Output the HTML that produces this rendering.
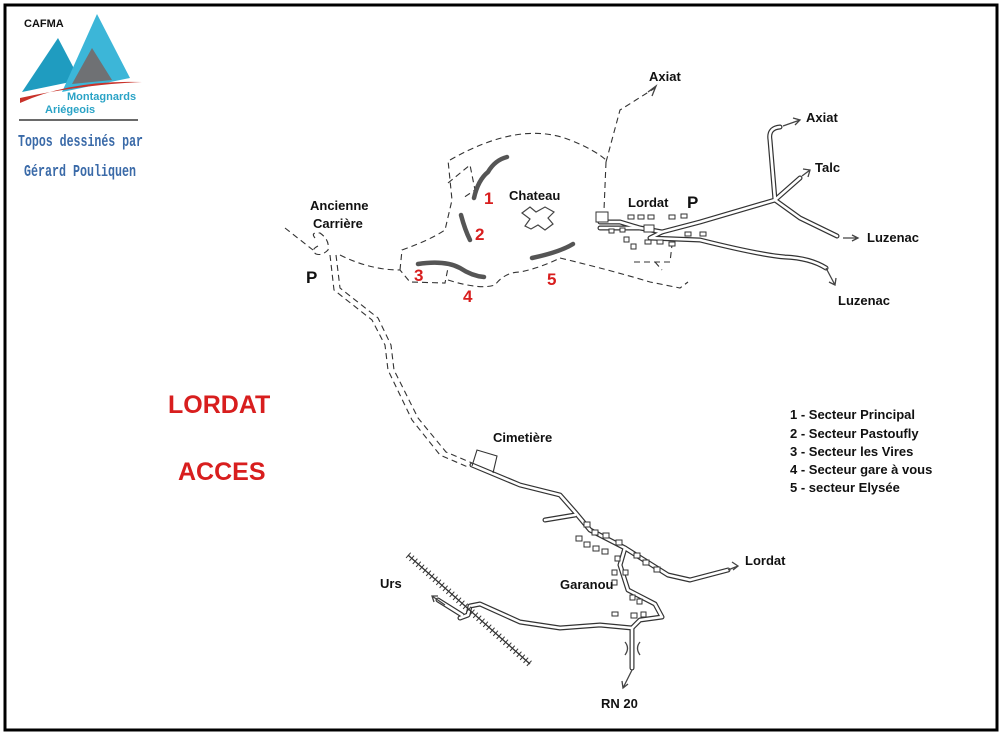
<!DOCTYPE html>
<html><head><meta charset="utf-8"><style>
html,body{margin:0;padding:0;background:#fff}
svg{display:block}
text{font-family:"Liberation Sans",sans-serif;font-weight:bold}
.r{fill:none;stroke:#333;stroke-width:5;stroke-linecap:round;stroke-linejoin:round}
.ri{fill:none;stroke:#fff;stroke-width:2.6;stroke-linecap:round;stroke-linejoin:round}
.rd{fill:none;stroke:#333;stroke-width:1.1;stroke-dasharray:6,4}
.ar{fill:none;stroke:#444;stroke-width:1.3}
.cr{fill:none;stroke:#555;stroke-width:4.5;stroke-linecap:round}
.h{fill:#fff;stroke:#333;stroke-width:1}
.n{fill:#d81e1e;font-size:17px}
</style></head><body>
<svg width="1003" height="736" viewBox="0 0 1003 736" xmlns="http://www.w3.org/2000/svg">
<rect x="0" y="0" width="1003" height="736" fill="#fff"/>
<rect x="5" y="5" width="992" height="725" fill="none" stroke="#000" stroke-width="3"/>

<!-- logo -->
<polygon points="22,92 58,38 80,80" fill="#1f9cc0"/>
<polygon points="62,92 97,14 130,78" fill="#3cb6d8"/>
<polygon points="72,84 92,48 112,80" fill="#6f7174"/>
<path d="M20,103 Q70,80 142,82 Q80,85 20,98 Z" fill="#c8322a"/>
<text x="24" y="27" font-size="11" fill="#111">CAFMA</text>
<text x="67" y="100" font-size="11" fill="#2aa3c6" font-weight="normal">Montagnards</text>
<text x="45" y="113" font-size="11" fill="#2aa3c6" font-weight="normal">Ariégeois</text>
<line x1="19" y1="120" x2="138" y2="120" stroke="#111" stroke-width="1.2"/>
<text x="18" y="146" font-size="17" fill="#3a6aa8" textLength="125" lengthAdjust="spacingAndGlyphs" style="font-family:'Liberation Mono',monospace;font-weight:bold">Topos dessinés par</text>
<text x="24" y="176" font-size="17" fill="#3a6aa8" textLength="112" lengthAdjust="spacingAndGlyphs" style="font-family:'Liberation Mono',monospace;font-weight:bold">Gérard Pouliquen</text>

<!-- dashed trails -->
<path class="rd" d="M285,228 L313,250"/>
<path class="rd" d="M315,238 Q310,232 320,233 Q330,240 328,250 Q322,256 316,254 Q310,250 318,246"/>
<path class="rd" d="M340,255 Q370,270 400,270 L410,282 L445,283 L448,268"/>
<path class="rd" d="M400,270 L402,250 Q430,240 445,230 L452,200 L448,160"/>
<path class="rd" d="M448,183 L470,165 L475,190 L463,198"/>
<path class="rd" d="M450,160 Q520,120 570,140 Q595,150 606,160"/>
<path class="rd" d="M606,162 L620,110 L655,88"/>
<path class="rd" d="M606,162 L604,210"/>
<path class="rd" d="M448,280 Q480,290 495,285 Q505,272 520,272 Q540,268 560,258"/>
<path class="rd" d="M560,258 Q610,270 650,282 L680,288 L688,282"/>
<path class="rd" d="M634,262 L670,262 L672,245 M655,262 L662,270"/>
<path class="ar" d="M648,92 L656,86 L652,96"/>
<path class="rd" d="M330,255 L334,290 L372,320 L385,345 L388,370 L412,420 L440,455 L470,468"/>
<path class="rd" d="M336,255 L340,288 L378,318 L391,345 L394,370 L418,418 L446,452 L472,463"/>

<!-- crags -->
<path class="cr" d="M474,198 Q478,180 488,172 Q495,160 507,157"/>
<path class="cr" d="M461,215 Q465,230 470,240"/>
<path class="cr" d="M418,264 Q445,260 460,268 Q472,276 484,277"/>
<path class="cr" d="M532,258 Q560,252 573,244"/>

<!-- chateau -->
<path d="M522,213 L530,207 L536,212 L545,207 L554,212 L548,218 L553,224 L545,230 L538,225 L531,229 L525,226 L530,219 Z" fill="none" stroke="#444" stroke-width="1.2"/>

<!-- solid roads -->
<g>
<path class="r" d="M600,222 L620,222 L640,228 L662,232 L700,222 L775,200"/>
<path class="r" d="M775,200 L770,140 Q768,128 780,127"/>
<path class="r" d="M775,200 L800,178"/>
<path class="r" d="M775,200 L800,218 L837,236"/>
<path class="r" d="M600,228 L640,228"/>
<path class="r" d="M662,232 L650,238 L700,240 Q760,255 785,257 Q810,258 826,268"/>
<path class="r" d="M472,465 L520,485 L560,495 L575,512 L590,530 L625,548 L668,575 L690,580 L728,570"/>
<path class="r" d="M545,520 L575,515"/>
<path class="r" d="M625,548 L620,565 L628,590 L655,604 L662,617 L640,620 L632,628 L600,625 L560,628 L520,622 L480,604 L470,606 L468,615 L460,618"/>
<path class="r" d="M462,615 L438,600"/>
<path class="r" d="M632,628 L632,668"/>
<g>
<path class="ri" d="M600,222 L620,222 L640,228 L662,232 L700,222 L775,200"/>
<path class="ri" d="M775,200 L770,140 Q768,128 780,127"/>
<path class="ri" d="M775,200 L800,178"/>
<path class="ri" d="M775,200 L800,218 L837,236"/>
<path class="ri" d="M600,228 L640,228"/>
<path class="ri" d="M662,232 L650,238 L700,240 Q760,255 785,257 Q810,258 826,268"/>
<path class="ri" d="M472,465 L520,485 L560,495 L575,512 L590,530 L625,548 L668,575 L690,580 L728,570"/>
<path class="ri" d="M545,520 L575,515"/>
<path class="ri" d="M625,548 L620,565 L628,590 L655,604 L662,617 L640,620 L632,628 L600,625 L560,628 L520,622 L480,604 L470,606 L468,615 L460,618"/>
<path class="ri" d="M462,615 L438,600"/>
<path class="ri" d="M632,628 L632,668"/>
</g>
</g>
<!-- arrows -->
<path class="ar" d="M783,126 L800,120 M793,118 L800,120 L795,125"/>
<path class="ar" d="M802,176 L810,170 M803,169 L810,170 L808,177"/>
<path class="ar" d="M843,238 L858,238 M852,235 L858,238 L852,241"/>
<path class="ar" d="M826,268 L835,285 M829,282 L835,285 L836,278"/>
<path class="ar" d="M728,570 L738,566 M732,562 L738,566 L733,570"/>
<path class="ar" d="M445,605 L432,596 M434,602 L432,596 L438,596"/>
<path class="ar" d="M632,670 L623,688 M622,681 L623,688 L628,684"/>
<path class="ar" d="M625,642 Q630,648 625,655 M640,642 Q635,648 640,655"/>

<!-- railway -->
<line x1="408" y1="555" x2="530" y2="664" stroke="#333" stroke-width="1.3"/>
<path d="M408,555 L530,664" stroke="#333" stroke-width="7" stroke-dasharray="1,3.5" fill="none"/>

<!-- cemetery -->
<path d="M472,466 L477,450 L497,456 L493,473" fill="none" stroke="#333" stroke-width="1.1"/>

<!-- houses -->
<g class="h">
<rect x="596" y="212" width="12" height="10"/>
<rect x="628" y="215" width="6" height="4"/><rect x="638" y="215" width="6" height="4"/><rect x="648" y="215" width="6" height="4"/>
<rect x="669" y="215" width="6" height="4"/><rect x="681" y="214" width="6" height="4"/>
<rect x="609" y="229" width="5" height="4"/><rect x="620" y="228" width="5" height="4"/>
<rect x="644" y="225" width="10" height="7"/>
<rect x="624" y="237" width="5" height="5"/><rect x="631" y="244" width="5" height="5"/>
<rect x="645" y="240" width="6" height="4"/><rect x="657" y="240" width="6" height="4"/><rect x="669" y="242" width="6" height="4"/>
<rect x="685" y="232" width="6" height="4"/><rect x="700" y="232" width="6" height="4"/>
<rect x="584" y="522" width="6" height="5"/><rect x="592" y="530" width="6" height="5"/><rect x="603" y="533" width="6" height="5"/><rect x="616" y="540" width="6" height="5"/>
<rect x="576" y="536" width="6" height="5"/><rect x="584" y="542" width="6" height="5"/><rect x="593" y="546" width="6" height="5"/><rect x="602" y="549" width="6" height="5"/>
<rect x="634" y="553" width="6" height="5"/><rect x="643" y="560" width="6" height="5"/><rect x="654" y="567" width="6" height="5"/>
<rect x="615" y="556" width="5" height="5"/><rect x="612" y="570" width="5" height="5"/><rect x="612" y="580" width="5" height="5"/>
<rect x="623" y="570" width="5" height="5"/><rect x="630" y="595" width="5" height="5"/><rect x="637" y="599" width="5" height="5"/>
<rect x="612" y="612" width="6" height="4"/><rect x="631" y="613" width="6" height="5"/><rect x="641" y="612" width="5" height="5"/>
</g>

<!-- labels -->
<g font-size="13" fill="#111">
<text x="649" y="81">Axiat</text>
<text x="806" y="122">Axiat</text>
<text x="815" y="172">Talc</text>
<text x="867" y="242">Luzenac</text>
<text x="838" y="305">Luzenac</text>
<text x="509" y="200">Chateau</text>
<text x="628" y="207">Lordat</text>
<text x="310" y="210">Ancienne</text>
<text x="313" y="228">Carrière</text>
<text x="493" y="442">Cimetière</text>
<text x="745" y="565">Lordat</text>
<text x="560" y="589">Garanou</text>
<text x="380" y="588">Urs</text>
<text x="601" y="708">RN 20</text>
</g>
<text x="687" y="208" font-size="17" fill="#111">P</text>
<text x="306" y="283" font-size="17" fill="#111">P</text>
<text class="n" x="484" y="204">1</text>
<text class="n" x="475" y="240">2</text>
<text class="n" x="414" y="281">3</text>
<text class="n" x="463" y="302">4</text>
<text class="n" x="547" y="285">5</text>
<text x="168" y="413" font-size="25" fill="#d81e1e">LORDAT</text>
<text x="178" y="480" font-size="25" fill="#d81e1e">ACCES</text>
<g font-size="13" fill="#111">
<text x="790" y="419">1 - Secteur Principal</text>
<text x="790" y="438">2 - Secteur Pastoufly</text>
<text x="790" y="456">3 - Secteur les Vires</text>
<text x="790" y="474">4 - Secteur gare à vous</text>
<text x="790" y="492">5 - secteur Elysée</text>
</g>
</svg>
</body></html>
